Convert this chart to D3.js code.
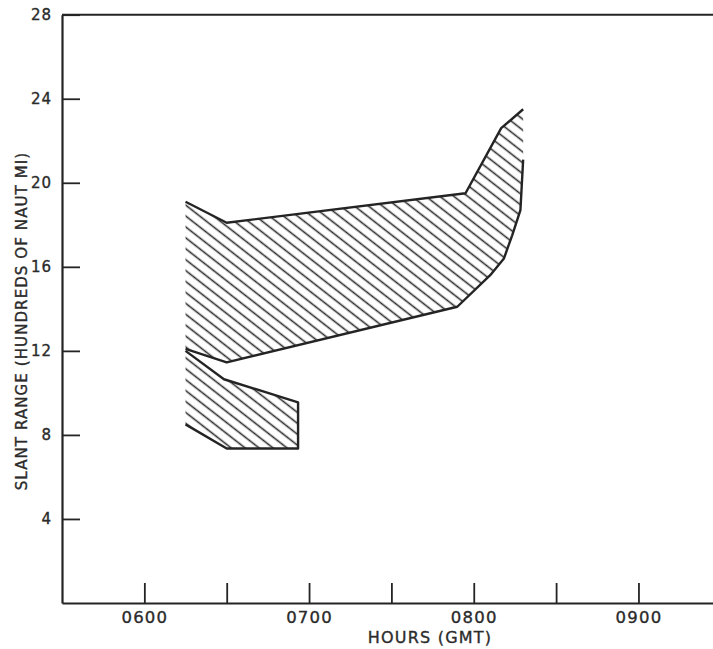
<!DOCTYPE html>
<html>
<head>
<meta charset="utf-8">
<script src="https://cdn.jsdelivr.net/npm/d3@7"></script>
<style>
  html, body { margin: 0; padding: 0; background: #fff; }
  svg { display: block; }
  text { font-family: "DejaVu Sans", sans-serif; fill: #2b2b2b; stroke: #2b2b2b; stroke-width: 0.35px; }
</style>
</head>
<body>
<svg id="chart" width="713" height="649"></svg>
<script>
// Slant range envelopes (hundreds of nautical miles) versus time (GMT, HHMM)
const upperTop    = [["0615", 19.1], ["0630", 18.1], ["0757", 19.5], ["0810", 22.6], ["0818", 23.5]];
const upperBottom = [["0615", 12.1], ["0630", 11.45], ["0754", 14.1], ["0806", 15.6], ["0811", 16.4],
                     ["0814", 17.5], ["0817", 18.7], ["0818", 21.1]];
const lowerTop    = [["0615", 12.0], ["0629", 10.65], ["0656", 9.55]];
const lowerBottom = [["0615", 8.5], ["0630", 7.35], ["0656", 7.35]];

const xTickTimes  = ["0600", "0630", "0700", "0730", "0800", "0830", "0900"];
const yTickValues = [4, 8, 12, 16, 20, 24, 28];
const xTitle = "HOURS (GMT)";
const yTitle = "SLANT RANGE (HUNDREDS OF NAUT MI)";

const parse = d3.timeParse("%H%M");
const fmt = d3.timeFormat("%H%M");
const ink = "#242424";

const svg = d3.select("#chart");

const x = d3.scaleTime()
  .domain([parse("0530"), parse("0930")])
  .range([62, 62 + 4 * 164.7]);
const y = d3.scaleLinear().domain([0, 28]).range([603, 14.7]);

// Hatch pattern: parallel strokes running down to the right
const defs = svg.append("defs");
const pat = defs.append("pattern")
  .attr("id", "hatch")
  .attr("patternUnits", "userSpaceOnUse")
  .attr("width", 12)
  .attr("height", 8.6)
  .attr("patternTransform", "rotate(38)");
pat.append("line")
  .attr("x1", 0).attr("x2", 12)
  .attr("y1", 4.3).attr("y2", 4.3)
  .attr("stroke", "#2e2e2e")
  .attr("stroke-width", 1.6);

const pt = d => [x(parse(d[0])), y(d[1])];
const line = d3.line().x(d => pt(d)[0]).y(d => pt(d)[1]);

function envelope(top, bottom) {
  const ring = top.concat(bottom.slice().reverse());
  svg.append("path")
    .attr("d", line(ring) + "Z")
    .attr("fill", "url(#hatch)")
    .attr("stroke", "none");
}

envelope(upperTop, upperBottom);
envelope(lowerTop, lowerBottom);

// Boundary strokes (left and upper-right ends of the envelopes stay open)
const outlines = [upperTop, upperBottom, lowerTop.concat(lowerBottom.slice().reverse())];
outlines.forEach(o => {
  svg.append("path")
    .attr("d", line(o))
    .attr("fill", "none")
    .attr("stroke", ink)
    .attr("stroke-width", 2.4)
    .attr("stroke-linejoin", "round");
});

// Frame top edge
svg.append("line")
  .attr("x1", x.range()[0]).attr("x2", 713)
  .attr("y1", y(28)).attr("y2", y(28))
  .attr("stroke", ink).attr("stroke-width", 2);

// X axis
const xAxis = d3.axisBottom(x)
  .tickValues(xTickTimes.map(parse))
  .tickSizeInner(-20)
  .tickSizeOuter(0)
  .tickPadding(8)
  .tickFormat(d => d.getMinutes() === 0 ? fmt(d) : "");
const gx = svg.append("g").attr("transform", `translate(0,${y(0)})`).call(xAxis);
gx.select(".domain").attr("stroke", ink).attr("stroke-width", 2.2);
gx.selectAll(".tick line").attr("stroke", ink).attr("stroke-width", 1.8);
gx.selectAll(".tick text")
  .attr("y", 20)
  .attr("dy", 0)
  .style("font-size", "16.5px")
  .style("letter-spacing", "1.2px")
  .attr("fill", "#2b2b2b");

// Y axis
const yAxis = d3.axisLeft(y)
  .tickValues(yTickValues)
  .tickSizeInner(-18)
  .tickSizeOuter(0)
  .tickPadding(10)
  .tickFormat(d3.format("d"));
const gy = svg.append("g").attr("transform", `translate(${x.range()[0]},0)`).call(yAxis);
gy.select(".domain").attr("stroke", ink).attr("stroke-width", 2.2);
gy.selectAll(".tick line").attr("stroke", ink).attr("stroke-width", 1.8);
gy.selectAll(".tick text")
  .attr("x", -10)
  .style("font-size", "15px")
  .style("letter-spacing", "1px")
  .attr("fill", "#2b2b2b");

// Axis titles
svg.append("text")
  .attr("x", 430).attr("y", 643)
  .attr("text-anchor", "middle")
  .style("font-size", "16px")
  .style("letter-spacing", "1.2px")
  .text(xTitle);

svg.append("text")
  .attr("transform", "translate(27,321) rotate(-90)")
  .attr("text-anchor", "middle")
  .style("font-size", "15px")
  .style("letter-spacing", "1.1px")
  .text(yTitle);
</script>
</body>
</html>
